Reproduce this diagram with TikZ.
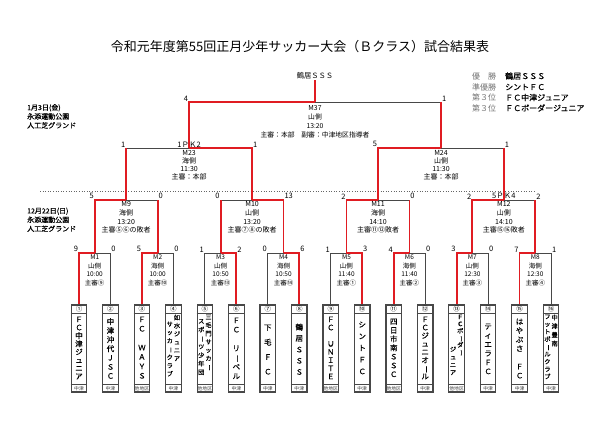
\documentclass[tikz,border=0pt]{standalone}
\usepackage{fontspec}
\setmainfont{Noto Sans CJK JP}
\newfontfamily\heavy[FakeBold=0.5]{Noto Sans CJK JP}
\usepackage{graphicx}
\usetikzlibrary{calc}
\definecolor{winred}{RGB}{224,28,34}
\definecolor{linegray}{RGB}{72,72,72}
\newcommand{\tatebar}{\rotatebox[origin=c]{-90}{ー}}
\setlength{\lineskiplimit}{-20pt}
\tikzset{
	lose/.style={draw=linegray, line width=0.9pt},
	win/.style={draw=winred, line width=1.8pt},
	score/.style={font=\fontsize{7.5}{8}\selectfont, inner sep=0.8pt},
	minfo/.style 2 args={font=\fontsize{#1}{#2}\selectfont, align=center, anchor=north, inner sep=0pt},
	team/.style={draw=linegray, line width=1.2pt, minimum width=15.5pt, minimum height=87pt, inner sep=0pt},
	vname/.style={font=\heavy\fontsize{7.5}{#1}\selectfont, align=center, anchor=north, inner sep=0pt},
	vsmall/.style={font=\heavy\fontsize{6.2}{#1}\selectfont, align=center, anchor=north, inner sep=0pt},
	venue/.style={font=\heavy\fontsize{7}{9}\selectfont, align=left, anchor=north west, inner sep=0pt},
	rank/.style={font=\fontsize{8}{9}\selectfont, anchor=west, inner sep=0pt, text=black!55},
}

\begin{document}
\begin{tikzpicture}[x=1pt, y=-1pt]
	\useasboundingbox (0,0) rectangle (600,424);
	\fill[white] (0,0) rectangle (600,424);
	\node[font=\fontsize{13}{15}\selectfont] (title) at (300,47) {令和元年度第55回正月少年サッカー大会（Ｂクラス）試合結果表};
	\node[venue] (day1) at (27,104) {1月3日(金)\\永添運動公園\\人工芝グランド};
	\node[venue] (day2) at (27,207.5) {12月22日(日)\\永添運動公園\\人工芝グランド};
	\node[rank] (rl1) at (472,76) {優　勝};
	\node[rank, font=\heavy\fontsize{8}{9}\selectfont, text=black] (rn1) at (505,76) {鶴居ＳＳＳ};
	\node[rank] (rl2) at (472,87) {準優勝};
	\node[rank, font=\heavy\fontsize{8}{9}\selectfont, text=black] (rn2) at (505,87) {シントＦＣ};
	\node[rank] (rl3) at (472,97.5) {第３位};
	\node[rank, font=\heavy\fontsize{8}{9}\selectfont, text=black] (rn3) at (505,97.5) {ＦＣ中津ジュニア};
	\node[rank] (rl4) at (472,108) {第３位};
	\node[rank, font=\heavy\fontsize{8}{9}\selectfont, text=black] (rn4) at (505,108) {ＦＣボーダージュニア};
	\node[font=\fontsize{7.3}{8}\selectfont, inner sep=0.5pt] (champ) at (315,76) {鶴居ＳＳＳ};
	\draw[dotted, line width=0.6pt, black!60] (40,191) -- (535,191);

	\foreach \i/\c/\h in {1/①/中津,2/②/中津,3/③/他地区,4/④/中津,5/⑤/他地区,6/⑥/中津,7/⑦/中津,8/⑧/中津,9/⑨/他地区,10/⑩/中津,11/⑪/他地区,12/⑫/中津,13/⑬/他地区,14/⑭/中津,15/⑮/中津,16/⑯/中津}{
		\node[team] (t\i) at ({79+31.47*(\i-1)},348.5) {};
		\draw[linegray, line width=0.6pt] ([yshift=-9pt]t\i.north west) -- ([yshift=-9pt]t\i.north east)
		    ([yshift=8pt]t\i.south west) -- ([yshift=8pt]t\i.south east);
		\node[font=\fontsize{6.5}{7}\selectfont, inner sep=0pt] (n\i) at ([yshift=-4.5pt]t\i.north) {\c};
		\node[font=\fontsize{4.8}{5}\selectfont, inner sep=0pt, text=black!75] (h\i) at ([yshift=4pt]t\i.south) {\h};
	}
	\foreach \m in {1,...,8}
		\coordinate (M\m) at ({79+31.47*(2*\m-1.5)},253);
	\coordinate (M9) at (126.2,200);
	\coordinate (M10) at (252.1,200);
	\coordinate (M11) at (378.0,200);
	\coordinate (M12) at (503.9,200);
	\coordinate (M23) at (189.1,148);
	\coordinate (M24) at (441.0,148);
	\coordinate (M37) at (315.0,102);

	\draw[lose] (t2.north) |- (M1) (t4.north) |- (M2) (t5.north) |- (M3) (t7.north) |- (M4)
	    (t9.north) |- (M5) (t12.north) |- (M6) (t14.north) |- (M7) (t16.north) |- (M8)
	    (M2 |- M9) -- (M9) (M3 |- M10) -- (M10) (M6 |- M11) -- (M11) (M8 |- M12) -- (M12)
	    (M9 |- M23) -- (M23) (M12 |- M24) -- (M24) (M24 |- M37) -- (M37);
	\draw[win] (t1.north) |- (M1) (t3.north) |- (M2) (t6.north) |- (M3) (t8.north) |- (M4)
	    (t10.north) |- (M5) (t11.north) |- (M6) (t13.north) |- (M7) (t15.north) |- (M8)
	    (M1) |- (M9) (M2) -- (M2 |- M9) (M3) -- (M3 |- M10) (M4) |- (M10)
	    (M5) |- (M11) (M6) -- (M6 |- M11) (M7) |- (M12) (M8) -- (M8 |- M12)
	    (M9) -- (M9 |- M23) (M10) |- (M23) (M11) |- (M24) (M12) -- (M12 |- M24)
	    (M23) |- (M37) (M24) -- (M24 |- M37) (M37) -- (champ);

	\foreach \m/\l/\r/\p/\q in {1/1/2/9/0,2/3/4/5/0,3/5/6/1/2,4/7/8/0/6,5/9/10/1/3,6/11/12/4/0,7/13/14/3/0,8/15/16/7/1}{
		\node[score, anchor=south east] (a\m) at (t\l |- M\m) {\p};
		\node[score, anchor=south west] (b\m) at (t\r |- M\m) {\q};
	}
	\node[score, anchor=south east] (a9) at (M1 |- M9) {5};
	\node[score, anchor=south west] (b9) at (M2 |- M9) {0};
	\node[score, anchor=south east] (a10) at (M3 |- M10) {0};
	\node[score, anchor=south west] (b10) at (M4 |- M10) {13};
	\node[score, anchor=south east] (a11) at (M5 |- M11) {2};
	\node[score, anchor=south west] (b11) at (M6 |- M11) {0};
	\node[score, anchor=south east] (a12) at (M7 |- M12) {2};
	\node[score, anchor=south west] (b12) at (M8 |- M12) {2};
	\node[score, anchor=south] (pk12) at (M12) {5ＰＫ4};
	\node[score, anchor=south east] (a23) at (M9 |- M23) {1};
	\node[score, anchor=south west] (b23) at (M10 |- M23) {1};
	\node[score, anchor=south] (pk23) at (M23) {1ＰＫ2};
	\node[score, anchor=south east] (a24) at (M11 |- M24) {5};
	\node[score, anchor=south west] (b24) at (M12 |- M24) {1};
	\node[score, anchor=south east] (a37) at (M23 |- M37) {4};
	\node[score, anchor=south west] (b37) at (M24 |- M37) {1};

	\foreach \m/\sd/\tm/\rf in {1/山側/10:00/⑨,2/海側/10:00/⑩,3/山側/10:50/⑬,4/海側/10:50/⑭,5/山側/11:40/①,6/海側/11:40/②,7/山側/12:30/③,8/海側/12:30/④}
		\node[minfo={6.5}{8.8}] (i\m) at ([yshift=-1.3pt]M\m) {M\m\\\sd\\\tm\\主審\rf};
	\node[minfo={7}{8.7}] (i9) at ([yshift=-1.5pt]M9) {M9\\海側\\13:20\\主審⑤⑥の敗者};
	\node[minfo={7}{8.7}] (i10) at ([yshift=-1.5pt]M10) {M10\\山側\\13:20\\主審⑦⑧の敗者};
	\node[minfo={7}{8.7}] (i11) at ([yshift=-1.5pt]M11) {M11\\海側\\14:10\\主審⑪⑫敗者};
	\node[minfo={7}{8.7}] (i12) at ([yshift=-1.5pt]M12) {M12\\山側\\14:10\\主審⑮⑯敗者};
	\node[minfo={7}{8.2}] (i23) at ([yshift=-2pt]M23) {M23\\海側\\11:30\\主審：本部};
	\node[minfo={7}{8.2}] (i24) at ([yshift=-2pt]M24) {M24\\山側\\11:30\\主審：本部};
	\node[minfo={6.8}{9}] (i37) at ([yshift=-3pt]M37) {M37\\山側\\13:20\\主審：本部　副審：中津地区指導者};

	\node[vname=8.15] (v1) at ([yshift=-12pt]t1.north) {Ｆ\\Ｃ\\中\\津\\ジ\\ュ\\ニ\\ア};
	\node[vname=9.05] (v2) at ([yshift=-13.5pt]t2.north) {中\\津\\沖\\代\\Ｊ\\Ｓ\\Ｃ};
	\node[vname=9.4] (v3) at ([yshift=-12pt]t3.north) {Ｆ\\Ｃ\\　\\Ｗ\\Ａ\\Ｙ\\Ｓ};
	\node[vsmall=8.2] (v4a) at ([xshift=3.6pt, yshift=-10pt]t4.north) {如\\水\\ジ\\ュ\\ニ\\ア};
	\node[vsmall=8.3] (v4b) at ([xshift=-3.6pt, yshift=-17pt]t4.north) {サ\\ッ\\カ\\\tatebar\\ク\\ラ\\ブ};
	\node[vsmall=8.3] (v5a) at ([xshift=3.6pt, yshift=-10pt]t5.north) {三\\毛\\門\\サ\\ッ\\カ\\\tatebar};
	\node[vsmall=8.5] (v5b) at ([xshift=-3.6pt, yshift=-14.5pt]t5.north) {ス\\ポ\\\tatebar\\ツ\\少\\年\\団};
	\node[vname=9.3] (v6) at ([yshift=-13pt]t6.north) {Ｆ\\Ｃ\\　\\リ\\\tatebar\\ベ\\ル};
	\node[vname=14.7] (v7) at ([yshift=-20pt]t7.north) {下\\毛\\Ｆ\\Ｃ};
	\node[vname=11.2] (v8) at ([yshift=-19pt]t8.north) {鶴\\居\\Ｓ\\Ｓ\\Ｓ};
	\node[vname=8.15] (v9) at ([yshift=-12pt]t9.north) {Ｆ\\Ｃ\\　\\Ｕ\\Ｎ\\Ｉ\\Ｔ\\Ｅ};
	\node[vname=11.7] (v10) at ([yshift=-17pt]t10.north) {シ\\ン\\ト\\Ｆ\\Ｃ};
	\node[vname=8.8] (v11) at ([yshift=-14pt]t11.north) {四\\日\\市\\南\\Ｓ\\Ｓ\\Ｃ};
	\node[vname=8.15] (v12) at ([yshift=-12pt]t12.north) {Ｆ\\Ｃ\\ジ\\ュ\\ニ\\オ\\\tatebar\\ル};
	\node[vsmall=7] (v13a) at ([xshift=3.6pt, yshift=-10pt]t13.north) {Ｆ\\Ｃ\\ボ\\\tatebar\\ダ\\\tatebar};
	\node[vsmall=7.8] (v13b) at ([xshift=-3.6pt, yshift=-42pt]t13.north) {ジ\\ュ\\ニ\\ア};
	\node[vname=9] (v14) at ([yshift=-19pt]t14.north) {テ\\ィ\\エ\\ラ\\Ｆ\\Ｃ};
	\node[vname=9] (v15) at ([yshift=-14pt]t15.north) {は\\や\\ぶ\\さ\\　\\Ｆ\\Ｃ};
	\node[vsmall=8.7] (v16a) at ([xshift=3.6pt, yshift=-10pt]t16.north) {中\\津\\豊\\南};
	\node[vsmall=7.5] (v16b) at ([xshift=-3.6pt, yshift=-10pt]t16.north) {フ\\ッ\\ト\\ボ\\\tatebar\\ル\\ク\\ラ\\ブ};
\end{tikzpicture}
\end{document}
